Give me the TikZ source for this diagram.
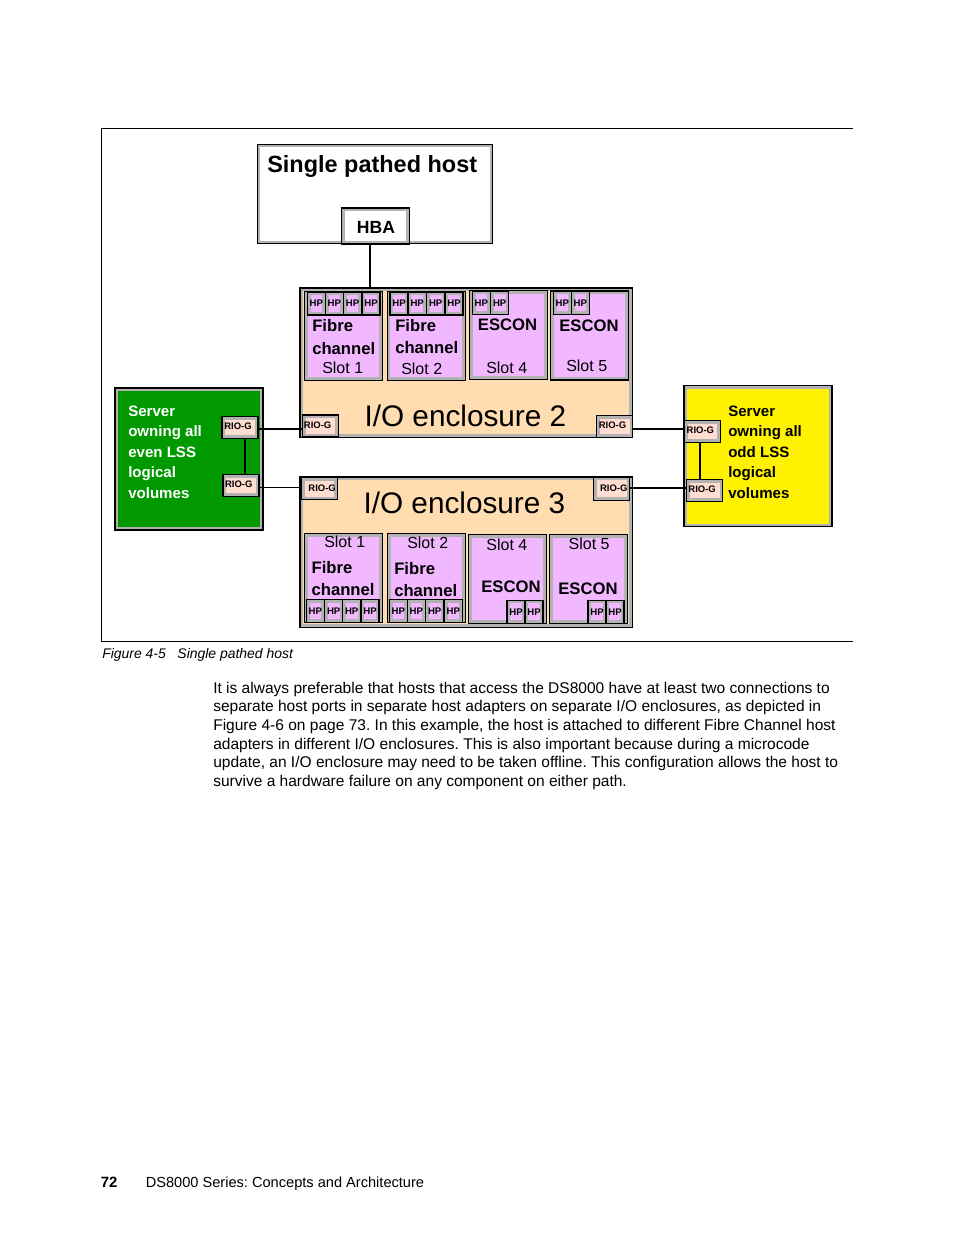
\documentclass[tikz,border=0pt]{standalone}
\usepackage{fontspec}
\setmainfont{Liberation Sans}
\def\px{0.75pt}
\definecolor{slotpink}{HTML}{F2B8FF}
\definecolor{encltan}{HTML}{FFDDB0}
\definecolor{riopeach}{HTML}{FFDDD0}
\definecolor{servgreen}{HTML}{009900}
\definecolor{bevelgray}{HTML}{B2B2B2}
\tikzset{
  bevel/.style 2 args={draw=black, line width=1.2*\px, inner sep=0pt,
    minimum width=#1*\px, minimum height=#2*\px,
    path picture={\draw[bevelgray, line width=6.4*\px]
      (path picture bounding box.south west) rectangle (path picture bounding box.north east);}},
  plainbox/.style 2 args={bevel={#1}{#2}, fill=white},
  encl/.style 2 args={bevel={#1}{#2}, fill=encltan},
  slotcard/.style={bevel={78}{89}, fill=slotpink},
  hp/.style={bevel={18}{23}, fill=slotpink, font=\fontsize{7.2}{8}\selectfont\bfseries},
  rio/.style 2 args={bevel={#1}{#2}, fill=riopeach},
  riotext/.style={anchor=west, inner sep=0pt, yshift=0.8*\px, font=\fontsize{7.1}{8}\selectfont\bfseries},
  cardtitle/.style={anchor=base west, inner sep=0pt, font=\fontsize{12.5}{14}\selectfont\bfseries},
  slottext/.style={anchor=base west, inner sep=0pt, font=\fontsize{12}{14}\selectfont},
  encltext/.style={anchor=base west, inner sep=0pt, font=\fontsize{22.3}{26}\selectfont},
  servtext/.style={anchor=north west, inner sep=0pt, align=left,
    font=\fontsize{11.3}{15.4}\selectfont\bfseries},
  wire/.style={draw=black, line width=1.7*\px},
}
\begin{document}
\begin{tikzpicture}[x=0.75pt,y=-0.75pt]
  \useasboundingbox (0,0) rectangle (954,1235);
  % figure frame, open on the right
  \coordinate (frameTL) at (101.5,128.5);
  \coordinate (frameTR) at (853,128.5);
  \coordinate (frameBL) at (101.5,641);
  \coordinate (frameBR) at (853,641);
  \draw[black, line width=1*\px] (frameTR) -- (frameTL) -- (frameBL) -- (frameBR);
  % host
  \node[plainbox={235.5}{99.5}] (host) at (375,194) {};
  \node[plainbox={68}{36}] (hba) at (375.5,226) {};
  \node[anchor=base west, inner sep=0pt, font=\fontsize{17.6}{20}\selectfont\bfseries] (hostname) at (267,172) {Single pathed host};
  \node[anchor=base west, inner sep=0pt, font=\fontsize{13.2}{15}\selectfont\bfseries] (hbaname) at (356.6,233.7) {HBA};
  % enclosure 2
  \node[encl={332.5}{149.5}] (enclTwo) at (466.3,362.8) {};
  \node[slotcard] (upA) at (343.3,336) {};
  \node[slotcard] (upB) at (426.2,336) {};
  \node[slotcard] (upC) at (508.5,335) {};
  \node[slotcard] (upD) at (589.5,335.5) {};
  \node[hp] (upA1) at (316.3,303.5) {HP};
  \node[hp] (upA2) at (334.3,303.5) {HP};
  \node[hp] (upA3) at (352.6,303.5) {HP};
  \node[hp] (upA4) at (371,303.5) {HP};
  \node[hp] (upB1) at (399,303.5) {HP};
  \node[hp] (upB2) at (417.2,303.5) {HP};
  \node[hp] (upB3) at (435.7,303.5) {HP};
  \node[hp] (upB4) at (454,303.5) {HP};
  \node[hp] (upC1) at (481.3,302.7) {HP};
  \node[hp] (upC2) at (499.7,302.7) {HP};
  \node[hp] (upD1) at (562.3,302.7) {HP};
  \node[hp] (upD2) at (580.3,302.7) {HP};
  \node[cardtitle] (upAtitle) at (312,331.7) {Fibre};
  \node[cardtitle] (upAsub) at (312,354) {channel};
  \node[slottext] (upAslot) at (322,373.8) {Slot 1};
  \node[cardtitle] (upBtitle) at (395,331.7) {Fibre};
  \node[cardtitle] (upBsub) at (395,353.3) {channel};
  \node[slottext] (upBslot) at (401,374.5) {Slot 2};
  \node[cardtitle] (upCtitle) at (477.7,330) {ESCON};
  \node[slottext] (upCslot) at (486,373.6) {Slot 4};
  \node[cardtitle] (upDtitle) at (559,331) {ESCON};
  \node[slottext] (upDslot) at (566,371.5) {Slot 5};
  \node[encltext] (enclTwoName) at (364.3,426.3) {I/O enclosure 2};
  \node[rio={36}{22}] (rioTwoL) at (320.3,426) {};
  \node[rio={36}{22}] (rioTwoR) at (614.7,426.3) {};
  \node[riotext, xshift=2*\px] (rioTwoLname) at (rioTwoL.west) {RIO-G};
  \node[riotext, xshift=2.5*\px] (rioTwoRname) at (rioTwoR.west) {RIO-G};
  % enclosure 3
  \node[encl={332.5}{150.5}] (enclThree) at (466.2,552.2) {};
  \node[slotcard] (lowA) at (343.3,578.3) {};
  \node[slotcard] (lowB) at (426.5,578.3) {};
  \node[slotcard] (lowC) at (507.5,579) {};
  \node[slotcard] (lowD) at (588.5,579) {};
  \node[hp] (lowA1) at (315.3,611) {HP};
  \node[hp] (lowA2) at (333.7,611) {HP};
  \node[hp] (lowA3) at (351.7,611) {HP};
  \node[hp] (lowA4) at (370,611) {HP};
  \node[hp] (lowB1) at (398.3,611) {HP};
  \node[hp] (lowB2) at (416.3,611) {HP};
  \node[hp] (lowB3) at (434.7,611) {HP};
  \node[hp] (lowB4) at (453.3,611) {HP};
  \node[hp] (lowC1) at (516,611.7) {HP};
  \node[hp] (lowC2) at (534,611.7) {HP};
  \node[hp] (lowD1) at (597,611.7) {HP};
  \node[hp] (lowD2) at (615,611.7) {HP};
  \node[slottext] (lowAslot) at (324,547.3) {Slot 1};
  \node[cardtitle] (lowAtitle) at (311.3,573.5) {Fibre};
  \node[cardtitle] (lowAsub) at (311.3,595) {channel};
  \node[slottext] (lowBslot) at (407,548) {Slot 2};
  \node[cardtitle] (lowBtitle) at (394,574) {Fibre};
  \node[cardtitle] (lowBsub) at (394,596) {channel};
  \node[slottext] (lowCslot) at (486.2,550) {Slot 4};
  \node[cardtitle] (lowCtitle) at (481,592) {ESCON};
  \node[slottext] (lowDslot) at (568.4,549) {Slot 5};
  \node[cardtitle] (lowDtitle) at (558,594) {ESCON};
  \node[encltext] (enclThreeName) at (363.3,513) {I/O enclosure 3};
  \node[rio={36}{22}] (rioThreeL) at (319.3,488.7) {};
  \node[rio={36}{23}] (rioThreeR) at (611.7,488.7) {};
  \node[riotext, xshift=7.5*\px] (rioThreeLname) at (rioThreeL.west) {RIO-G};
  \node[riotext, xshift=6.7*\px] (rioThreeRname) at (rioThreeR.west) {RIO-G};
  % even server
  \node[bevel={148}{142}, fill=servgreen] (servEven) at (189,459) {};
  \node[servtext, text=white] (servEvenName) at (128,405.3) {Server\\owning all\\even LSS\\logical\\volumes};
  \node[rio={36}{22}] (rioEvenA) at (240,427.5) {};
  \node[rio={36}{22}] (rioEvenB) at (241,485.5) {};
  \node[riotext, xshift=2.7*\px] (rioEvenAname) at (rioEvenA.west) {RIO-G};
  \node[riotext, xshift=2.4*\px] (rioEvenBname) at (rioEvenB.west) {RIO-G};
  % odd server
  \node[bevel={148}{141}, fill=yellow] (servOdd) at (758,456.3) {};
  \node[servtext] (servOddName) at (728,405.3) {Server\\owning all\\odd LSS\\logical\\volumes};
  \node[rio={36}{22}] (rioOddA) at (702.3,431.5) {};
  \node[rio={36}{22}] (rioOddB) at (704.8,490.3) {};
  \node[riotext, xshift=2.7*\px] (rioOddAname) at (rioOddA.west) {RIO-G};
  \node[riotext, xshift=2*\px] (rioOddBname) at (rioOddB.west) {RIO-G};
  % connectors
  \coordinate (hostdrop) at (370,266);
  \coordinate (evenlink) at (245,456);
  \coordinate (oddlink) at (700,460);
  \coordinate (wireTwoL) at (280,429.3);
  \coordinate (wireTwoR) at (660,428.7);
  \coordinate (wireThreeL) at (280,487);
  \coordinate (wireThreeR) at (660,488);
  \draw[wire] (hostdrop |- hba.south) -- (hostdrop |- enclTwo.north);
  \draw[wire] (evenlink |- rioEvenA.south) -- (evenlink |- rioEvenB.north);
  \draw[wire] (oddlink |- rioOddA.south) -- (oddlink |- rioOddB.north);
  \draw[wire] (wireTwoL -| rioEvenA.east) -- (wireTwoL -| rioTwoL.west);
  \draw[wire] (wireTwoR -| rioTwoR.east) -- (wireTwoR -| rioOddA.west);
  \draw[wire, line width=1*\px] (wireThreeL -| rioEvenB.east) -- (wireThreeL -| rioThreeL.west);
  \draw[wire] (wireThreeR -| rioThreeR.east) -- (wireThreeR -| rioOddB.west);
  % page text
  \node[anchor=base west, inner sep=0pt, font=\fontsize{10.45}{12}\selectfont\itshape] (caption) at (102,658) {Figure 4-5\hspace{8.8pt}Single pathed host};
  \node[anchor=north west, inner sep=0pt, align=left, font=\frenchspacing\fontsize{11.65}{14.05}\selectfont] (body) at (213,681.5) {It is always preferable that hosts that access the DS8000 have at least two connections to\\separate host ports in separate host adapters on separate I/O enclosures, as depicted in\\Figure 4-6 on page 73. In this example, the host is attached to different Fibre Channel host\\adapters in different I/O enclosures. This is also important because during a microcode\\update, an I/O enclosure may need to be taken offline. This configuration allows the host to\\survive a hardware failure on any component on either path.};
  \node[anchor=base west, inner sep=0pt, font=\fontsize{11.2}{13}\selectfont\bfseries] (pagenum) at (100.5,1187) {72};
  \node[anchor=base west, inner sep=0pt, font=\frenchspacing\fontsize{10.95}{13}\selectfont] (footer) at (145.5,1187) {DS8000 Series: Concepts and Architecture};
\end{tikzpicture}
\end{document}
